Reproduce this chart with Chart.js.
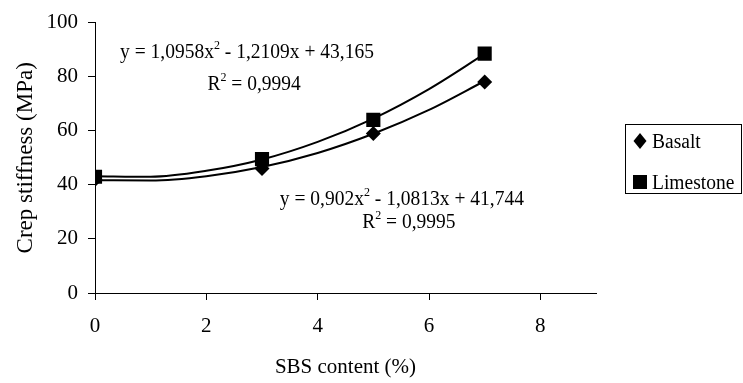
<!DOCTYPE html>
<html>
<head>
<meta charset="utf-8">
<script src="https://cdn.jsdelivr.net/npm/chart.js@4/dist/chart.umd.min.js"></script>
<style>
  html, body { margin: 0; padding: 0; background: #fff; }
  #wrap { width: 743px; height: 383px; }
</style>
</head>
<body>
<div id="wrap"><canvas id="creepChart" width="743" height="383"></canvas></div>
<script>
// measured points
const sbsContent = [0, 3, 5, 7];
const basaltStiffness = [42, 46, 59, 78];
const limestoneStiffness = [43, 49.5, 64, 88.5];

// trend curves
const trendX = [0, 1, 2, 3, 4, 5, 6, 7];
const basaltTrend = [41.7, 41.6, 43.2, 46.6, 51.8, 58.9, 67.7, 78.4];
const limestoneTrend = [43.2, 43.0, 45.2, 49.4, 55.9, 64.5, 75.4, 88.4];

const xTicks = [0, 2, 4, 6, 8];
const yTicks = [0, 20, 40, 60, 80, 100];

const seriesNames = ['Basalt', 'Limestone'];
const equations = [
  { parts: ['y = 1,0958x', '2', ' - 1,2109x + 43,165'], x: 0.45, y: 87.0 },
  { parts: ['R', '2', ' = 0,9994'], x: 2.02, y: 75.0 },
  { parts: ['y = 0,902x', '2', ' - 1,0813x + 41,744'], x: 3.32, y: 32.5 },
  { parts: ['R', '2', ' = 0,9995'], x: 4.8, y: 24.0 }
];

const FONT = '"Liberation Serif", "Times New Roman", serif';
const STRETCH = 1.12; // the source text is a little taller than wide

const toXY = (xs, ys) => xs.map((x, i) => ({ x: x, y: ys[i] }));

// draws text where every second part is a superscript
function drawSup(ctx, parts, x, y) {
  ctx.save();
  ctx.translate(x, y);
  ctx.scale(1, STRETCH);
  let cx = 0;
  parts.forEach((p, i) => {
    if (i % 2 === 1) {
      ctx.font = '12px ' + FONT;
      ctx.fillText(p, cx, -8);
    } else {
      ctx.font = '19.5px ' + FONT;
      ctx.fillText(p, cx, 0);
    }
    cx += ctx.measureText(p).width;
  });
  ctx.restore();
}

const annotations = {
  id: 'annotations',
  afterDraw(chart) {
    const ctx = chart.ctx;
    const xs = chart.scales.x, ys = chart.scales.y;
    ctx.save();
    ctx.fillStyle = '#000';
    ctx.textAlign = 'left';
    ctx.textBaseline = 'alphabetic';
    equations.forEach(e => {
      drawSup(ctx, e.parts, xs.getPixelForValue(e.x), ys.getPixelForValue(e.y));
    });

    // legend box
    ctx.strokeStyle = '#000';
    ctx.lineWidth = 1;
    ctx.strokeRect(625.5, 124.5, 116, 69);
    // diamond
    ctx.beginPath();
    ctx.moveTo(640, 133); ctx.lineTo(646.5, 141); ctx.lineTo(640, 149); ctx.lineTo(633.5, 141);
    ctx.closePath();
    ctx.fill();
    // square
    ctx.fillRect(633, 175, 14, 14);
    [[seriesNames[0], 148], [seriesNames[1], 189]].forEach(([t, by]) => {
      ctx.save();
      ctx.translate(652, by);
      ctx.scale(1, STRETCH);
      ctx.font = '19.5px ' + FONT;
      ctx.fillText(t, 0, 0);
      ctx.restore();
    });
    ctx.restore();
  }
};

new Chart(document.getElementById('creepChart'), {
  type: 'scatter',
  data: {
    datasets: [
      {
        label: seriesNames[0],
        data: toXY(sbsContent, basaltStiffness),
        pointStyle: 'rectRot',
        pointRadius: 7.5,
        backgroundColor: '#000',
        borderColor: '#000',
        borderWidth: 0,
        order: 0
      },
      {
        label: seriesNames[1],
        data: toXY(sbsContent, limestoneStiffness),
        pointStyle: 'rect',
        pointRadius: 10,
        backgroundColor: '#000',
        borderColor: '#000',
        borderWidth: 0,
        order: 0
      },
      {
        label: 'Basalt trend',
        data: toXY(trendX, basaltTrend),
        showLine: true,
        pointRadius: 0,
        borderColor: '#000',
        borderWidth: 2,
        cubicInterpolationMode: 'monotone',
        order: 1
      },
      {
        label: 'Limestone trend',
        data: toXY(trendX, limestoneTrend),
        showLine: true,
        pointRadius: 0,
        borderColor: '#000',
        borderWidth: 2,
        cubicInterpolationMode: 'monotone',
        order: 1
      }
    ]
  },
  options: {
    responsive: false,
    animation: false,
    layout: { padding: { top: 20, right: 147, left: 0, bottom: 0 } },
    plugins: {
      legend: { display: false },
      tooltip: { enabled: false }
    },
    scales: {
      x: {
        type: 'linear',
        min: 0,
        max: 9,
        afterFit: s => { s.height = 90; },
        afterBuildTicks: s => { s.ticks = xTicks.map(v => ({ value: v })); },
        grid: { drawOnChartArea: false, drawTicks: true, tickLength: 7, color: '#000' },
        border: { color: '#000', width: 1 },
        ticks: { color: '#000', padding: 14, font: { family: FONT, size: 21 } },
        title: {
          display: true,
          text: 'SBS content (%)',
          color: '#000',
          padding: { top: 0, bottom: 3 },
          font: { family: FONT, size: 21 }
        }
      },
      y: {
        min: 0,
        max: 100,
        afterFit: s => { s.width = 95; },
        afterBuildTicks: s => { s.ticks = yTicks.map(v => ({ value: v })); },
        grid: { drawOnChartArea: false, drawTicks: true, tickLength: 7, color: '#000' },
        border: { color: '#000', width: 1 },
        ticks: { color: '#000', padding: 10, font: { family: FONT, size: 21 } },
        title: {
          display: true,
          text: 'Crep stiffness (MPa)',
          color: '#000',
          padding: { top: 12, bottom: 0 },
          font: { family: FONT, size: 23 }
        }
      }
    }
  },
  plugins: [annotations]
});
</script>
</body>
</html>
